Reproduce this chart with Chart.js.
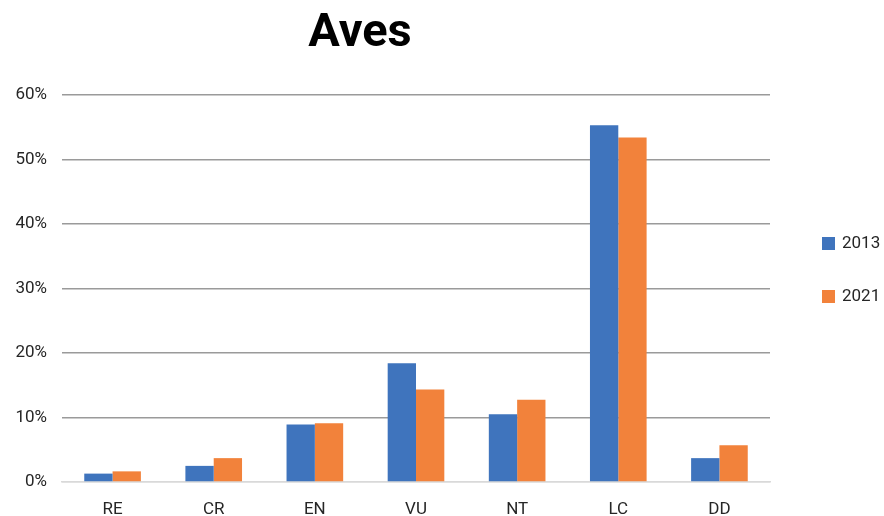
<!DOCTYPE html>
<html lang="es">
<head>
<meta charset="utf-8">
<title>Aves</title>
<script src="https://cdn.jsdelivr.net/npm/chart.js@4/dist/chart.umd.min.js"></script>
<style>
  html, body { margin: 0; padding: 0; background: #ffffff; }
  #wrap { width: 884px; height: 516px; }
</style>
</head>
<body>
<div id="wrap"><canvas id="chart" width="884" height="516"></canvas></div>
<script>
// Categorías de la Lista Roja y porcentaje de especies de aves en cada una
const categories = ['RE', 'CR', 'EN', 'VU', 'NT', 'LC', 'DD'];
const seriesNames = ['2013', '2021'];
const values2013 = [1.3, 2.5, 8.9, 18.4, 10.5, 55.3, 3.7];
const values2021 = [1.65, 3.7, 9.1, 14.35, 12.75, 53.4, 5.7];
const yTicks = [0, 10, 20, 30, 40, 50, 60];

const BLUE = '#3f74bd';
const ORANGE = '#f2823b';
const FONT = "'Roboto', 'Liberation Sans', sans-serif";

// título desplazado a la izquierda, sobre el área de barras
const titlePlugin = {
  id: 'avesTitle',
  afterDraw(chart) {
    const { ctx } = chart;
    ctx.save();
    ctx.font = "bold 47px " + FONT;
    ctx.fillStyle = '#000000';
    ctx.textAlign = 'center';
    ctx.textBaseline = 'middle';
    ctx.fillText('Aves', 360, 34);
    ctx.restore();
  }
};

// leyenda a la derecha, con cuadrados de color y el año
const legendPlugin = {
  id: 'sideLegend',
  afterDraw(chart) {
    const { ctx } = chart;
    const x = chart.chartArea.right + 52;
    ctx.save();
    ctx.font = "17px " + FONT;
    ctx.textBaseline = 'middle';
    chart.data.datasets.forEach((ds, i) => {
      const cy = 244 + i * 53;
      ctx.fillStyle = ds.backgroundColor;
      ctx.fillRect(x, cy - 7, 13, 13);
      ctx.fillStyle = '#262626';
      ctx.fillText(ds.label, x + 20, cy);
    });
    ctx.restore();
  }
};

new Chart(document.getElementById('chart'), {
  type: 'bar',
  data: {
    labels: categories,
    datasets: [
      { label: seriesNames[0], data: values2013, backgroundColor: BLUE },
      { label: seriesNames[1], data: values2021, backgroundColor: ORANGE }
    ]
  },
  options: {
    responsive: false,
    animation: false,
    layout: { padding: { top: 95, right: 114, bottom: 0, left: 0 } },
    datasets: {
      bar: { categoryPercentage: 0.56, barPercentage: 1.0 }
    },
    plugins: {
      legend: { display: false },
      tooltip: { enabled: false }
    },
    scales: {
      x: {
        afterFit: (axis) => { axis.height = 34; },
        grid: { display: false, drawTicks: false },
        border: { color: '#d9d9d9', width: 1.5 },
        ticks: {
          color: '#262626',
          padding: 18,
          maxRotation: 0,
          font: { family: FONT, size: 17 }
        }
      },
      y: {
        min: yTicks[0],
        max: yTicks[yTicks.length - 1],
        afterBuildTicks: (axis) => { axis.ticks = yTicks.map(v => ({ value: v })); },
        afterFit: (axis) => { axis.width = 62; },
        border: { display: false },
        grid: {
          drawTicks: false,
          lineWidth: 1.5,
          color: (c) => c.tick && c.tick.value === 0 ? '#d9d9d9' : '#9a9a9a'
        },
        ticks: {
          color: '#262626',
          padding: 15,
          font: { family: FONT, size: 17 },
          callback: (v) => v + '%'
        }
      }
    }
  },
  plugins: [titlePlugin, legendPlugin]
});
</script>
</body>
</html>
